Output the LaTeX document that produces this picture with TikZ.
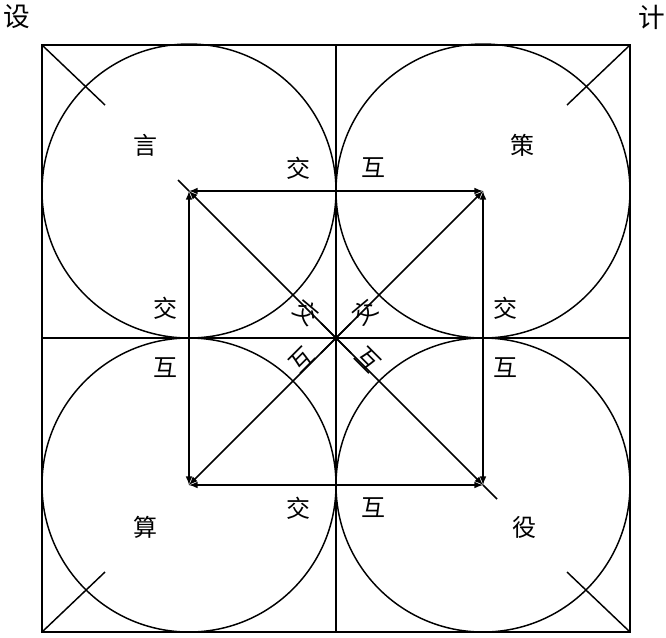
\documentclass[tikz,border=0pt]{standalone}
\usepackage{fontspec}
\newfontfamily\cjk{Noto Sans CJK SC}
\begin{document}
\begin{tikzpicture}[x=0.75pt,y=-0.75pt,line width=1.1pt,
  lbl/.style={font=\cjk\fontsize{18}{18}\selectfont,inner sep=0pt},
  arr/.style={-latex,line width=1.2pt}]
\useasboundingbox (0,0) rectangle (666,637);
\draw (42,45) rectangle (630,632);
\draw (336,45) -- (336,632) (42,338) -- (630,338);
\foreach \cx/\cy in {189/191,483/191,189/485,483/485} \draw (\cx,\cy) circle (147);
\draw (42,45) -- (105,105) (630,45) -- (567,105) (42,632) -- (105,572) (630,632) -- (567,572);
\draw (321,323) -- (351,353) (351,323) -- (321,353);
\coordinate (O) at (336,338);
\coordinate (A) at (189,191); \coordinate (B) at (483,191);
\coordinate (C) at (189,485); \coordinate (D) at (483,485);
\draw[latex-latex,line width=1.2pt] (A) -- (B);
\draw[latex-latex,line width=1.2pt] (A) -- (C);
\draw[latex-latex,line width=1.2pt] (C) -- (D);
\draw[latex-latex,line width=1.2pt] (B) -- (D);
\draw[arr] (O) -- (A); \draw (A) -- (178,180);
\draw[arr] (O) -- (B);
\draw[arr] (O) -- (C);
\draw[arr] (O) -- (D); \draw (D) -- (497,499);
\node[lbl,font=\cjk\fontsize{20}{20}\selectfont] (s1) at (17,17) {设};
\node[lbl,font=\cjk\fontsize{20}{20}\selectfont] (s2) at (652,17) {计};
\node[lbl] (n1) at (145,145) {言};
\node[lbl] (n2) at (522,145) {策};
\node[lbl] (n3) at (145,527) {算};
\node[lbl] (n4) at (524,527) {役};
\node[lbl] at (298,168) {交}; \node[lbl] at (373,168) {互};
\node[lbl] at (165,308) {交}; \node[lbl] at (165,368) {互};
\node[lbl] at (505,308) {交}; \node[lbl] at (505,368) {互};
\node[lbl] at (298,508) {交}; \node[lbl] at (373,508) {互};
\node[lbl,rotate=-40] at (307,312) {交};
\node[lbl,rotate=40] at (365,312) {交};
\node[lbl,rotate=45] at (302,360) {互};
\node[lbl,rotate=-45] at (368,360) {互};
\end{tikzpicture}
\end{document}
